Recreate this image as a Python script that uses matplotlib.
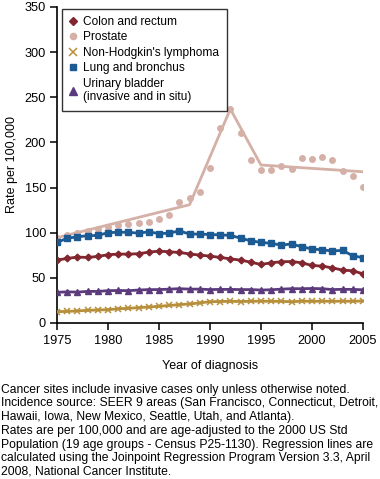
import matplotlib
matplotlib.use("Agg")
import matplotlib.pyplot as plt
from matplotlib.lines import Line2D

plt.rcParams['font.family'] = ['Liberation Sans', 'DejaVu Sans']

# --- Data ---
years = list(range(1975, 2006))

colon = [69.7, 71.5, 73.0, 72.6, 73.7, 75.6, 76.3, 76.3, 76.7, 78.5, 79.6,
         78.9, 78.1, 76.5, 75.2, 74.1, 72.6, 71.1, 69.6, 67.4, 64.8, 66.7,
         67.8, 68.1, 66.7, 63.7, 63.0, 61.1, 58.6, 57.8, 54.5]

prostate = [94.5, 98.0, 100.0, 102.0, 104.0, 106.7, 109.0, 110.0, 111.0, 112.0, 114.8,
            119.6, 133.7, 138.0, 145.6, 171.5, 215.6, 237.4, 210.4, 180.4, 169.3, 169.3,
            173.8, 170.8, 183.0, 182.0, 183.4, 181.0, 167.8, 163.0, 150.8]

nhl = [12.6, 12.8, 13.4, 14.0, 14.4, 14.7, 15.8, 16.2, 17.0, 17.7, 18.5,
       19.4, 20.3, 21.1, 22.2, 23.6, 23.8, 24.0, 23.8, 24.0, 24.2, 24.0,
       24.0, 23.5, 24.2, 24.0, 24.1, 24.0, 24.2, 24.0, 24.4]

lung = [89.3, 93.8, 95.5, 96.7, 97.0, 100.0, 100.5, 100.5, 99.5, 101.0, 99.0,
        99.5, 102.0, 98.5, 98.5, 98.0, 97.6, 97.0, 94.0, 91.0, 89.3, 88.2,
        86.3, 87.5, 84.5, 82.0, 81.0, 79.8, 80.4, 74.5, 72.3]

bladder = [34.0, 34.5, 34.2, 35.0, 35.0, 35.8, 36.0, 35.8, 36.5, 37.0, 37.0,
           37.5, 38.0, 37.5, 37.5, 37.0, 37.2, 37.2, 37.0, 37.0, 36.5, 36.8,
           37.5, 38.0, 38.0, 38.2, 38.0, 37.0, 37.3, 37.2, 36.8]

# joinpoint regression for prostate
prostate_jp_years = [1975, 1988, 1992, 1995, 2005]
prostate_jp = [94.5, 131.0, 237.0, 175.0, 167.5]

labels = ["Colon and rectum", "Prostate", "Non-Hodgkin's lymphoma",
          "Lung and bronchus", "Urinary bladder\n(invasive and in situ)"]

caption = ("Cancer sites include invasive cases only unless otherwise noted.\n"
           "Incidence source: SEER 9 areas (San Francisco, Connecticut, Detroit,\n"
           "Hawaii, Iowa, New Mexico, Seattle, Utah, and Atlanta).\n"
           "Rates are per 100,000 and are age-adjusted to the 2000 US Std\n"
           "Population (19 age groups - Census P25-1130). Regression lines are\n"
           "calculated using the Joinpoint Regression Program Version 3.3, April\n"
           "2008, National Cancer Institute.")

# --- Colours ---
c_colon = "#82262f"
c_prost = "#d4b0a7"
c_nhl = "#b78e3a"
c_lung = "#1c5a94"
c_blad = "#5c3b7d"

fig = plt.figure(figsize=(3.8, 4.79), dpi=100)
ax = fig.add_axes([0.150, 0.3257, 0.805, 0.6597])

# prostate: points + joinpoint line
ax.plot(prostate_jp_years, prostate_jp, color=c_prost, lw=2.0, zorder=2)
ax.plot(years, prostate, "o", color=c_prost, ms=5, mec="none", zorder=2)

ax.plot(years, lung, color=c_lung, lw=2.0, marker="s", ms=4.3, mec=c_lung, zorder=3)
ax.plot(years, colon, color=c_colon, lw=2.0, marker="D", ms=3.4, mec=c_colon, zorder=3)
ax.plot(years, bladder, color=c_blad, lw=2.0, marker="^", ms=4.3, mec=c_blad, zorder=3)
ax.plot(years, nhl, color=c_nhl, lw=2.0, marker="x", ms=5, mew=1.1, zorder=3)

ax.set_xlim(1975, 2005)
ax.set_ylim(0, 350)
ax.set_xticks(range(1975, 2006, 5))
ax.set_yticks(range(0, 351, 50))
ax.spines["top"].set_visible(False)
ax.spines["right"].set_visible(False)
ax.spines["left"].set_linewidth(1.2)
ax.spines["bottom"].set_linewidth(1.2)
ax.tick_params(direction="out", length=5, width=1.1, labelsize=9.2, pad=3)
ax.tick_params(axis="x", pad=4)
ax.set_xlabel("Year of diagnosis", fontsize=9, labelpad=9)
ax.set_ylabel("Rate per 100,000", fontsize=9, labelpad=5)
for sp in ax.spines.values():
    sp.set_clip_on(False)

# --- Legend ---
handles = [
    Line2D([], [], ls="none", marker="D", ms=4, color=c_colon),
    Line2D([], [], ls="none", marker="o", ms=5.5, color=c_prost, mec="none"),
    Line2D([], [], ls="none", marker="x", ms=5.5, mew=1.1, color=c_nhl),
    Line2D([], [], ls="none", marker="s", ms=5, color=c_lung),
    Line2D([], [], ls="none", marker="^", ms=5.5, color=c_blad),
]
leg = ax.legend(handles, labels, loc="upper left", bbox_to_anchor=(0.016, 0.995),
                borderaxespad=0, fontsize=8.6, frameon=True, fancybox=False,
                handlelength=0.7, handletextpad=0.5, labelspacing=0.3,
                borderpad=0.6)
leg.get_frame().set_edgecolor("black")
leg.get_frame().set_linewidth(1.0)
for t in leg.get_texts():
    t.set_linespacing(1.15)

fig.text(0.003, 0.199, caption, fontsize=8.7, va="top", ha="left", linespacing=1.19)

fig.savefig("out.png", dpi=100)
